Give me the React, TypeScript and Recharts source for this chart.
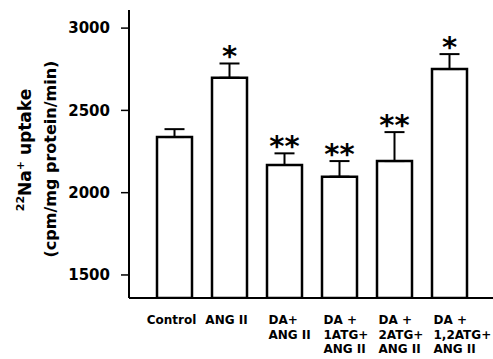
import React from 'react';
import { ComposedChart, Bar, Line, XAxis, YAxis, ErrorBar, LabelList, Label } from 'recharts';

const categories = ['Control', 'ANG II', 'DA+\nANG II', 'DA +\n1ATG+\nANG II', 'DA +\n2ATG+\nANG II', 'DA +\n1,2ATG+\nANG II'];
const uptake = [2338, 2698, 2168, 2097, 2192, 2751];
const sem = [48, 87, 71, 95, 176, 91];
const signif = ['', '*', '**', '**', '**', '*'];
const yTicks = [1500, 2000, 2500, 3000];

const data = categories.map((name, i) => ({
  name,
  uptake: uptake[i],
  err: [0, sem[i]],
  top: uptake[i] + sem[i],
  sig: signif[i],
}));

const FONT = '"DejaVu Sans", sans-serif';

function CategoryTick(props: any) {
  const { x, y, payload } = props;
  const lines: string[] = String(payload.value).split('\n');
  const single = lines.length === 1;
  return (
    <g>
      {lines.map((ln, i) => (
        <text
          key={i}
          x={single ? x - 3 : x - 16}
          y={y + 26 + i * 14.5}
          textAnchor={single ? 'middle' : 'start'}
          fontFamily={FONT}
          fontWeight={700}
          fontSize={12}
          fill="#000"
        >
          {ln}
        </text>
      ))}
    </g>
  );
}

function YTitle() {
  return (
    <g fontFamily={FONT} fontWeight={700} fill="#000">
      <text transform="rotate(-90)" x={-150} y={31} textAnchor="middle" fontSize={17}>
        <tspan fontSize={11} dy={-7}>22</tspan>
        <tspan dy={7}>Na</tspan>
        <tspan fontSize={11} dy={-7}>+</tspan>
        <tspan dy={7}> uptake</tspan>
      </text>
      <text transform="rotate(-90)" x={-159} y={56} textAnchor="middle" fontSize={16}>
        (cpm/mg protein/min)
      </text>
    </g>
  );
}

function Stars(props: any) {
  const { x, y, value } = props;
  if (!value) return null;
  return (
    <text x={x} y={y + 3} textAnchor="middle" fontFamily={FONT} fontWeight={700} fontSize={29} fill="#000">
      {value}
    </text>
  );
}

export default function App() {
  return (
    <div style={{ width: 493, height: 359, background: '#fff' }}>
      <style>{'body{margin:0}'}</style>
      <ComposedChart width={493} height={359} data={data} margin={{ top: 10, right: 0, bottom: 0, left: 0 }}>
        <XAxis
          dataKey="name"
          height={61}
          interval={0}
          tickLine={false}
          tickSize={0}
          tickMargin={0}
          axisLine={{ stroke: '#000', strokeWidth: 2 }}
          padding={{ left: 18, right: 16 }}
          tick={<CategoryTick />}
        />
        <YAxis
          width={129}
          domain={[1360, 3110]}
          ticks={yTicks}
          allowDataOverflow
          tickSize={8}
          tickMargin={11}
          axisLine={{ stroke: '#000', strokeWidth: 2 }}
          tickLine={{ stroke: '#000', strokeWidth: 1.5 }}
          tick={{ fill: '#000', fontSize: 15, fontWeight: 700, fontFamily: FONT }}
        >
          <Label content={<YTitle />} />
        </YAxis>
        <Bar dataKey="uptake" barSize={35} fill="#fff" stroke="#000" strokeWidth={2.5} isAnimationActive={false}>
          <ErrorBar dataKey="err" width={10} stroke="#000" strokeWidth={2} direction="y" />
        </Bar>
        <Line dataKey="top" stroke="none" dot={false} activeDot={false} isAnimationActive={false}>
          <LabelList dataKey="sig" content={<Stars />} position="top" offset={0} />
        </Line>
      </ComposedChart>
    </div>
  );
}
